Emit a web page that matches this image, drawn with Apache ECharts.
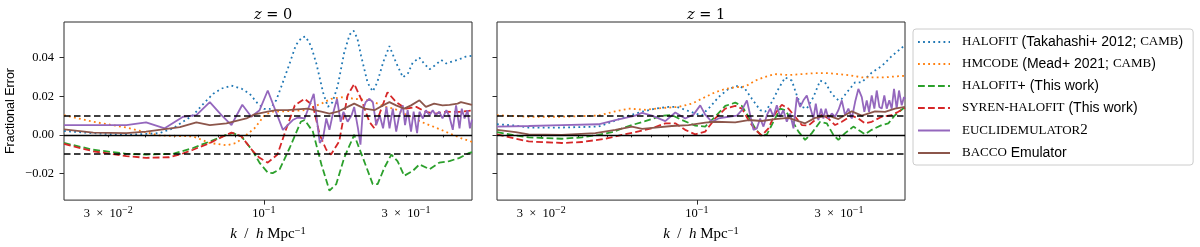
<!DOCTYPE html>
<html><head><meta charset="utf-8">
<script src="https://cdn.jsdelivr.net/npm/echarts@6/dist/echarts.min.js"></script>
<style>html,body{margin:0;padding:0;background:#fff}#c{width:1200px;height:247px}</style>
</head><body><div id="c"></div>
<script>
// ---------- data (k [h/Mpc], fractional error) ----------
const seriesNames = ['halofit_tak', 'hmcode', 'halofit_plus', 'syren', 'euclid', 'bacco'];
const panelTitles = ['z = 0', 'z = 1'];

const z0_halofit = [[0.0213,0.002],[0.0267,0.0009],[0.0345,0.0],[0.0446,0.0009],[0.0495,0.0034],[0.0578,0.0102],[0.0625,0.016],[0.0675,0.0213],[0.072,0.024],[0.0778,0.0255],[0.084,0.024],[0.0896,0.0213],[0.095,0.0165],[0.1,0.0135],[0.105,0.0135],[0.11,0.018],[0.115,0.026],[0.122,0.037],[0.128,0.0465],[0.134,0.0505],[0.138,0.051],[0.144,0.046],[0.15,0.037],[0.158,0.022],[0.164,0.0145],[0.17,0.017],[0.177,0.0255],[0.186,0.0425],[0.194,0.052],[0.2,0.054],[0.206,0.05],[0.212,0.041],[0.223,0.027],[0.232,0.0225],[0.24,0.027],[0.252,0.038],[0.264,0.046],[0.278,0.0374],[0.293,0.0298],[0.305,0.032],[0.316,0.0374],[0.333,0.040],[0.345,0.037],[0.36,0.034],[0.375,0.036],[0.394,0.0388],[0.41,0.037],[0.425,0.0378],[0.45,0.039],[0.475,0.0405],[0.5,0.041]];
const z0_hmcode = [[0.0213,0.0102],[0.0267,0.0068],[0.0345,0.0038],[0.0393,0.0017],[0.0446,-0.0003],[0.0578,-0.0008],[0.0658,-0.0042],[0.0748,-0.0054],[0.0808,-0.0042],[0.0873,0.0],[0.093,0.0034],[0.0967,0.0068],[0.1005,0.0102],[0.106,0.012],[0.12,0.0123],[0.137,0.0128],[0.156,0.0162],[0.168,0.0187],[0.186,0.0196],[0.201,0.0187],[0.226,0.0179],[0.257,0.0145],[0.275,0.0135],[0.3,0.0105],[0.337,0.0068],[0.394,0.0026],[0.459,-0.0017],[0.5,-0.0036]];
const z0_halofitPlus = [[0.0213,-0.0042],[0.0267,-0.0077],[0.0345,-0.0098],[0.0402,-0.0102],[0.0495,-0.0098],[0.0578,-0.0068],[0.0658,-0.0034],[0.0748,0.0],[0.0787,0.0009],[0.084,-0.0008],[0.0919,-0.0085],[0.0967,-0.0145],[0.103,-0.0195],[0.107,-0.0198],[0.113,-0.0178],[0.122,-0.0068],[0.133,0.0068],[0.137,0.0077],[0.146,0.0017],[0.156,-0.0153],[0.166,-0.0289],[0.175,-0.0255],[0.186,-0.0119],[0.201,0.0],[0.215,-0.0119],[0.232,-0.0255],[0.241,-0.0255],[0.254,-0.017],[0.268,-0.0102],[0.281,-0.0136],[0.296,-0.0212],[0.316,-0.0187],[0.333,-0.0153],[0.36,-0.0178],[0.388,-0.0144],[0.42,-0.0136],[0.454,-0.0119],[0.49,-0.0093],[0.5,-0.009]];
const z0_syren = [[0.0213,-0.0047],[0.0267,-0.0085],[0.0345,-0.011],[0.0402,-0.0119],[0.048,-0.0116],[0.0522,-0.0102],[0.0578,-0.0077],[0.0658,-0.0042],[0.0729,-0.0008],[0.0778,0.0012],[0.084,-0.0008],[0.0919,-0.0085],[0.0967,-0.0119],[0.103,-0.0144],[0.111,-0.0102],[0.119,0.0034],[0.127,0.0153],[0.137,0.0187],[0.146,0.0153],[0.154,0.0],[0.162,-0.0077],[0.168,-0.0102],[0.179,-0.0034],[0.191,0.0204],[0.201,0.0264],[0.212,0.0187],[0.226,0.0068],[0.235,0.0034],[0.248,0.0136],[0.26,0.0221],[0.278,0.017],[0.3,0.0136],[0.325,0.0145],[0.35,0.0119],[0.378,0.011],[0.41,0.012],[0.454,0.0119],[0.5,0.0127]];
const z0_euclid = [[0.0213,0.0051],[0.0345,0.0051],[0.0402,0.0065],[0.0464,0.0034],[0.0535,0.0094],[0.0593,0.0102],[0.0658,0.017],[0.072,0.0102],[0.0778,0.0051],[0.0846,0.0156],[0.0907,0.0094],[0.0967,0.0128],[0.103,0.023],[0.1158,0.0026],[0.125,0.0077],[0.13,0.009],[0.137,0.0085],[0.147,0.0213],[0.154,-0.0042],[0.158,-0.0017],[0.162,0.0085],[0.166,0.0026],[0.17,0.0102],[0.176,0.0187],[0.181,0.0068],[0.185,0.012],[0.191,0.0068],[0.197,0.0102],[0.201,0.0145],[0.207,0.0034],[0.211,-0.0051],[0.2149,0.0128],[0.2197,0.017],[0.2261,0.0187],[0.2322,0.017],[0.2384,0.0051],[0.2448,0.0102],[0.2513,0.0034],[0.258,0.0145],[0.2642,0.0034],[0.271,0.0136],[0.2782,0.0017],[0.285,0.0102],[0.2927,0.0153],[0.2979,0.0051],[0.304,0.0128],[0.312,0.0017],[0.3184,0.012],[0.327,0.0009],[0.333,0.012],[0.342,0.0085],[0.35,0.0128],[0.36,0.0102],[0.369,0.0128],[0.378,0.0102],[0.388,0.012],[0.398,0.0085],[0.41,0.0128],[0.42,0.0094],[0.431,0.0026],[0.442,0.0153],[0.454,0.0034],[0.462,0.0136],[0.472,0.0085],[0.483,0.0128],[0.492,0.0034],[0.5,0.008]];
const z0_bacco = [[0.0213,0.0029],[0.0267,0.0012],[0.0345,0.0009],[0.0402,0.0017],[0.0458,0.0029],[0.0522,0.004],[0.0593,0.0065],[0.0658,0.0051],[0.0748,0.006],[0.0873,0.0085],[0.093,0.0106],[0.103,0.012],[0.11,0.0128],[0.12,0.0128],[0.14,0.0136],[0.156,0.012],[0.166,0.011],[0.177,0.012],[0.191,0.0145],[0.201,0.0162],[0.212,0.0145],[0.218,0.0136],[0.235,0.0128],[0.251,0.0153],[0.264,0.017],[0.278,0.0153],[0.296,0.0136],[0.312,0.0153],[0.333,0.0179],[0.35,0.0145],[0.373,0.0162],[0.398,0.0153],[0.42,0.0156],[0.447,0.0162],[0.459,0.017],[0.5,0.0156]];

const z1_halofit = [[0.0213,0.0055],[0.0246,0.0048],[0.0272,0.0038],[0.0352,0.0038],[0.0467,0.0043],[0.0519,0.0068],[0.059,0.01],[0.0654,0.012],[0.0724,0.0136],[0.0803,0.0145],[0.0857,0.0145],[0.0913,0.013],[0.0987,0.0111],[0.104,0.0102],[0.1066,0.012],[0.1108,0.0145],[0.1182,0.0196],[0.1276,0.0238],[0.1379,0.0255],[0.1452,0.0238],[0.153,0.0187],[0.1631,0.0128],[0.1695,0.012],[0.1785,0.017],[0.1878,0.0238],[0.1978,0.0298],[0.2084,0.0281],[0.2166,0.0204],[0.2251,0.0145],[0.234,0.0136],[0.2462,0.0196],[0.2593,0.0281],[0.2694,0.0272],[0.2838,0.0213],[0.2987,0.0179],[0.3067,0.0187],[0.3227,0.023],[0.3399,0.0272],[0.3579,0.0272],[0.3865,0.0323],[0.4177,0.0357],[0.4512,0.0408],[0.4874,0.0451],[0.5,0.0468]];
const z1_hmcode = [[0.0213,0.0102],[0.0272,0.0094],[0.0352,0.0094],[0.0467,0.01],[0.0532,0.0122],[0.059,0.0136],[0.067,0.013],[0.0763,0.0139],[0.0868,0.0145],[0.0962,0.0162],[0.1066,0.0196],[0.1152,0.0221],[0.1245,0.0238],[0.1345,0.0247],[0.1452,0.025],[0.1569,0.0281],[0.1695,0.0301],[0.1831,0.0315],[0.2029,0.031],[0.2251,0.0315],[0.2495,0.032],[0.2764,0.032],[0.2987,0.0315],[0.3227,0.031],[0.3579,0.0298],[0.3966,0.0298],[0.4285,0.0298],[0.4628,0.0303],[0.5,0.0306]];
const z1_halofitPlus = [[0.0213,0.0014],[0.0246,-0.0003],[0.0272,-0.0013],[0.0352,-0.002],[0.0411,-0.0013],[0.0467,0.0],[0.0519,0.0014],[0.059,0.0046],[0.067,0.0071],[0.0763,0.01],[0.0824,0.0102],[0.0891,0.0077],[0.0987,0.0048],[0.1066,0.0043],[0.1152,0.0094],[0.1245,0.015],[0.1345,0.0167],[0.1416,0.015],[0.149,0.0094],[0.1569,0.0034],[0.1652,-0.0008],[0.1718,0.0003],[0.1807,0.0068],[0.1903,0.0136],[0.1978,0.0128],[0.2084,0.0077],[0.2193,0.0017],[0.2309,-0.0026],[0.2432,0.0009],[0.2593,0.0068],[0.273,0.006],[0.2873,0.0],[0.2987,-0.0026],[0.3146,0.0009],[0.3354,0.0043],[0.3486,0.0026],[0.3671,0.0003],[0.3865,0.0026],[0.4177,0.0051],[0.4395,0.006],[0.4628,0.0102],[0.5,0.0145]];
const z1_syren = [[0.0213,0.0003],[0.0246,-0.002],[0.0272,-0.0034],[0.0352,-0.0042],[0.0411,-0.0037],[0.0492,-0.002],[0.056,0.0],[0.0621,0.0014],[0.0706,0.0034],[0.0783,0.006],[0.0846,0.006],[0.0913,0.0026],[0.0987,0.0003],[0.1066,0.0017],[0.1152,0.0085],[0.1245,0.0136],[0.1345,0.015],[0.1416,0.0136],[0.149,0.0077],[0.1569,0.0026],[0.1652,-0.0003],[0.1739,0.0034],[0.1831,0.011],[0.1928,0.0156],[0.2029,0.0136],[0.2138,0.0094],[0.2251,0.0051],[0.2369,0.0048],[0.2495,0.0077],[0.2627,0.0105],[0.2764,0.0085],[0.2911,0.0051],[0.3067,0.0068],[0.3313,0.01],[0.3486,0.0085],[0.3671,0.006],[0.3865,0.0068],[0.4177,0.0094],[0.4512,0.0102],[0.4748,0.012],[0.5,0.014]];
const z1_euclid = [[0.0213,0.0043],[0.0272,0.0046],[0.0352,0.0051],[0.0467,0.0055],[0.0532,0.0077],[0.0621,0.01],[0.0654,0.0114],[0.0706,0.01],[0.0783,0.0071],[0.0846,0.0116],[0.0913,0.0085],[0.0974,0.0105],[0.1026,0.0153],[0.1066,0.0105],[0.1123,0.0068],[0.1182,0.0085],[0.1276,0.0094],[0.1362,0.01],[0.1416,0.0128],[0.1472,0.0179],[0.151,0.0102],[0.1549,0.0026],[0.159,0.0034],[0.1631,0.0085],[0.1673,0.0043],[0.1718,0.0102],[0.1762,0.0136],[0.1807,0.0094],[0.1855,0.0153],[0.1903,0.0094],[0.1952,0.0128],[0.2004,0.0068],[0.2056,0.0111],[0.211,0.0034],[0.2166,0.0196],[0.2222,0.0145],[0.2279,0.0179],[0.2339,0.0204],[0.24,0.0145],[0.2462,0.0085],[0.2508,0.0162],[0.2559,0.0077],[0.2613,0.0136],[0.2659,0.0085],[0.2709,0.0136],[0.2764,0.0085],[0.2838,0.0111],[0.2911,0.0094],[0.2987,0.0128],[0.3067,0.0179],[0.3146,0.0102],[0.3227,0.0136],[0.3313,0.0085],[0.3399,0.017],[0.3486,0.0238],[0.3579,0.0196],[0.3651,0.0119],[0.3719,0.0179],[0.3786,0.0119],[0.3865,0.0204],[0.3945,0.0136],[0.4018,0.023],[0.41,0.0145],[0.4177,0.0136],[0.4261,0.0204],[0.4341,0.0136],[0.4429,0.0179],[0.4512,0.0136],[0.4593,0.0238],[0.4689,0.0136],[0.4774,0.023],[0.4874,0.0153],[0.4962,0.0196],[0.5,0.0185]];
const z1_bacco = [[0.0213,0.0026],[0.0246,0.0014],[0.0272,0.0003],[0.0352,0.0],[0.0456,0.0009],[0.0532,0.0026],[0.0605,0.0043],[0.0654,0.0031],[0.0724,0.0038],[0.0824,0.0046],[0.0937,0.0051],[0.1066,0.0063],[0.1152,0.0068],[0.1345,0.0065],[0.149,0.0077],[0.1652,0.0072],[0.1831,0.0082],[0.2029,0.0088],[0.2138,0.0077],[0.2309,0.006],[0.2495,0.0088],[0.2764,0.01],[0.2987,0.0082],[0.3313,0.0122],[0.3579,0.01],[0.3966,0.0122],[0.4285,0.0119],[0.4628,0.0136],[0.5,0.0145]];

const refLines = [0.01, -0.01];
const zeroLine = 0;
const xMin = 0.0213, xMax = 0.5;
const yMin = -0.0338, yMax = 0.0585;
const yTicks = [-0.02, 0, 0.02, 0.04];
const yTickLabels = ['\u22120.02', '0.00', '0.02', '0.04'];
const xMinorTicks = [0.03, 0.04, 0.05, 0.06, 0.07, 0.08, 0.09, 0.2, 0.3, 0.4];
const xMajorTicks = [0.1];
const xLabelTicks = [0.03, 0.1, 0.3];
const xTickMantissa = ['3\u2002\u00d7\u200210', '10', '3\u2002\u00d7\u200210'];
const xTickExponent = ['\u22122', '\u22121', '\u22121'];

// ---------- presentation ----------
const panels = [
  [z0_halofit, z0_hmcode, z0_halofitPlus, z0_syren, z0_euclid, z0_bacco],
  [z1_halofit, z1_hmcode, z1_halofitPlus, z1_syren, z1_euclid, z1_bacco]
];
const legendRich = {
  halofit_tak: '{sc|HALOFIT}{t| (Takahashi+ 2012; }{sc|CAMB}{t|)}',
  hmcode: '{sc|HMCODE}{t| (Mead+ 2021; }{sc|CAMB}{t|)}',
  halofit_plus: '{sc|HALOFIT}{t|+ (This work)}',
  syren: '{sc|SYREN-HALOFIT}{t| (This work)}',
  euclid: '{sc|EUCLIDEMULATOR}{d|2}',
  bacco: '{sc|BACCO}{t| Emulator}'
};
const styles = [
  {color: '#1f77b4', type: [1.8, 3.3]},
  {color: '#ff7f0e', type: [1.8, 3.3]},
  {color: '#2ca02c', type: [6.8, 3.2]},
  {color: '#d62728', type: [6.8, 3.2]},
  {color: '#9467bd', type: 'solid'},
  {color: '#8c564b', type: 'solid'}
];
const gridsPx = [{left: 64, top: 22, width: 408, height: 181}, {left: 497, top: 22, width: 408, height: 181}];
const serif = 'Liberation Serif';
const sans = 'Liberation Sans';

const xLabelFmt = v => {
  for (let i = 0; i < xLabelTicks.length; i++) {
    if (Math.abs(v - xLabelTicks[i]) < 1e-6 * xLabelTicks[i]) return '{n|' + xTickMantissa[i] + '}{s|' + xTickExponent[i] + '}';
  }
  return '';
};
const yLabelFmt = v => {
  for (let i = 0; i < yTicks.length; i++) if (Math.abs(v - yTicks[i]) < 1e-9) return yTickLabels[i];
  return '';
};
const supRich = {
  n: {fontFamily: serif, fontSize: 12.5, lineHeight: 18, color: '#000'},
  s: {fontFamily: serif, fontSize: 10, lineHeight: 9, verticalAlign: 'top', color: '#000'}
};

const grid = [], xAxis = [], yAxis = [], series = [], title = [];
gridsPx.forEach((g, p) => {
  grid.push(Object.assign({show: true, borderColor: '#2b2b2b', borderWidth: 1, backgroundColor: 'transparent', containLabel: false}, g));
  const nameStr = '{i|k}{n|  /  }{i|h}{n| Mpc}{s|\u22121}';
  xAxis.push({
    type: 'log', gridIndex: p, min: xMin, max: xMax, position: 'bottom',
    axisLine: {show: false}, splitLine: {show: false}, minorTick: {show: false},
    axisTick: {show: true, inside: false, length: 2.5, customValues: xMinorTicks, lineStyle: {color: '#2b2b2b', width: 1}},
    axisLabel: {show: true, customValues: xLabelTicks, formatter: xLabelFmt, margin: 5, rich: supRich},
    name: nameStr, nameLocation: 'middle', nameGap: 20,
    nameTextStyle: {rich: {
      i: {fontFamily: serif, fontStyle: 'italic', fontSize: 15, lineHeight: 18, color: '#000'},
      n: {fontFamily: serif, fontSize: 15, lineHeight: 18, color: '#000'},
      s: {fontFamily: serif, fontSize: 10.5, lineHeight: 9, verticalAlign: 'top', color: '#000'}
    }}
  });
  xAxis.push({
    type: 'log', gridIndex: p, min: xMin, max: xMax, position: 'bottom',
    axisLine: {show: false}, splitLine: {show: false}, axisLabel: {show: false},
    axisTick: {show: true, inside: false, length: 4.5, customValues: xMajorTicks, lineStyle: {color: '#2b2b2b', width: 1}}
  });
  yAxis.push({
    type: 'value', gridIndex: p, min: yMin, max: yMax,
    axisLine: {show: false}, splitLine: {show: false},
    axisTick: {show: true, inside: false, length: 4.5, customValues: yTicks, lineStyle: {color: '#2b2b2b', width: 1}},
    axisLabel: {show: p === 0, customValues: yTicks, formatter: yLabelFmt, margin: 10, fontFamily: serif, fontSize: 12.5, color: '#000'},
    name: p === 0 ? 'Fractional Error' : '', nameLocation: 'middle', nameGap: 47,
    nameTextStyle: {fontFamily: sans, fontSize: 12.5, color: '#000'}
  });
  const t = panelTitles[p];
  title.push({
    text: '{i|' + t.charAt(0) + '}{n|' + t.slice(1) + '}',
    left: g.left + g.width / 2, top: 1, textAlign: 'center',
    textStyle: {fontWeight: 'normal', rich: {
      i: {fontFamily: 'DejaVu Serif', fontStyle: 'italic', fontWeight: 'normal', fontSize: 14.5, lineHeight: 18, color: '#000'},
      n: {fontFamily: 'DejaVu Serif', fontWeight: 'normal', fontSize: 14.5, lineHeight: 18, color: '#000'}
    }}
  });
  panels[p].forEach((data, i) => {
    series.push({
      type: 'line', name: seriesNames[i], data: data,
      xAxisIndex: p * 2, yAxisIndex: p, symbol: 'none', showSymbol: false,
      clip: true, z: 2,
      lineStyle: {color: styles[i].color, width: 1.8, type: styles[i].type, cap: 'butt'},
      itemStyle: {color: styles[i].color},
      emphasis: {disabled: true}
    });
  });
  series.push({
    type: 'line', name: 'ref' + p, data: [], xAxisIndex: p * 2, yAxisIndex: p, z: 3, silent: true,
    markLine: {
      silent: true, symbol: ['none', 'none'], label: {show: false}, animation: false,
      data: refLines.map(v => ({yAxis: v, lineStyle: {color: '#000', width: 1.6, type: [6.5, 3.5]}}))
        .concat([{yAxis: zeroLine, lineStyle: {color: '#000', width: 1.3, type: 'solid'}}])
    }
  });
});

const chart = echarts.init(document.getElementById('c'), null, {renderer: 'canvas', devicePixelRatio: 1});
chart.setOption({
  animation: false,
  backgroundColor: '#fff',
  textStyle: {fontFamily: serif},
  title: title,
  grid: grid, xAxis: xAxis, yAxis: yAxis, series: series,
  legend: {
    data: seriesNames, orient: 'vertical', left: 913, top: 29,
    padding: [6, 10, 5, 4], itemGap: 8, itemWidth: 32, itemHeight: 14,
    borderColor: '#cccccc', borderWidth: 1, borderRadius: 3, backgroundColor: 'rgba(255,255,255,0.8)',
    selectedMode: false,
    itemStyle: {opacity: 0},
    formatter: name => legendRich[name],
    textStyle: {
      padding: [0, 0, 0, 7],
      rich: {
        sc: {fontFamily: serif, fontSize: 13, lineHeight: 14, color: '#000'},
        t: {fontFamily: sans, fontSize: 14, lineHeight: 14, color: '#000'},
        d: {fontFamily: serif, fontSize: 15, lineHeight: 14, color: '#000'}
      }
    }
  }
});
</script>
</body></html>
